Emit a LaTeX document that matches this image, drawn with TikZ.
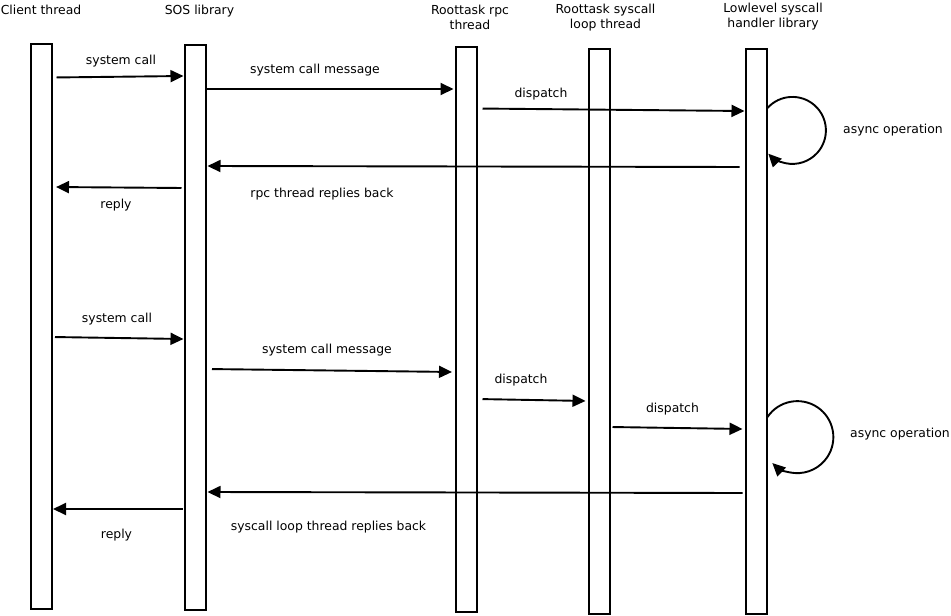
\documentclass[tikz,border=0pt]{standalone}
\usepackage{fontspec}
\setmainfont{DejaVu Sans}
\usetikzlibrary{arrows.meta,positioning}

\begin{document}
\begin{tikzpicture}[
    x=1pt, y=-1pt,
    every node/.style={font=\fontsize{12.4}{15}\selectfont, inner sep=0pt},
    bar/.style={draw, line width=2pt, fill=white, minimum width=21pt, minimum height=565pt},
    title/.style={align=center, anchor=north},
    lbl/.style={anchor=base},
    msg/.style={-{Triangle[length=13pt,width=12pt]}, line width=1.9pt}
  ]
    \useasboundingbox (0,0) rectangle (951,616);

    % lifelines
    \node[bar] (client) at (41,326.5) {};
    \node[bar] (sos) at (195,327.5) {};
    \node[bar] (rpc) at (466,329) {};
    \node[bar] (loop) at (599,331.5) {};
    \node[bar] (low) at (756,331.5) {};

    \node[title] (clientT) at (41,5) {Client thread};
    \node[title] (sosT) at (199.5,5) {SOS library};
    \node[title] (rpcT) at (470,5) {Roottask rpc\\thread};
    \node[title] (loopT) at (605.5,4) {Roottask syscall\\loop thread};
    \node[title] (lowT) at (773,3) {Lowlevel syscall\\handler library};

    % first call, answered by the rpc thread
    \draw[msg, shorten <=4pt] (client.east |- 0,77.5) -- (sos.west |- 0,76);
    \draw[msg, shorten <=0.5pt, shorten >=1pt] (sos.east |- 0,89) -- (rpc.west |- 0,89);
    \draw[msg, shorten <=5pt] (rpc.east |- 0,108.5) -- (low.west |- 0,111);
    \draw[msg] (low.east |- 0,108) arc[start angle=-138, end angle=136, radius=33.5];
    \draw[msg, shorten <=5pt, shorten >=1pt] (low.west |- 0,167) -- (sos.east |- 0,166);
    \draw[msg, shorten <=2pt, shorten >=3.5pt] (sos.west |- 0,188) -- (client.east |- 0,187);

    \node[lbl] (call1) at (121,64) {system call};
    \node[lbl] (callmsg1) at (315,73) {system call message};
    \node[lbl] (disp1) at (541,97) {dispatch};
    \node[lbl] (async1) at (893,133) {async operation};
    \node[lbl] (back1) at (322,197) {rpc thread replies back};
    \node[lbl] (reply1) at (116,208) {reply};

    % second call, answered by the syscall loop thread
    \draw[msg, shorten <=2.5pt] (client.east |- 0,337) -- (sos.west |- 0,339);
    \draw[msg, shorten <=5.5pt, shorten >=2.5pt] (sos.east |- 0,369) -- (rpc.west |- 0,372);
    \draw[msg, shorten <=5pt, shorten >=2pt] (rpc.east |- 0,399) -- (loop.west |- 0,401);
    \draw[msg, shorten <=2pt, shorten >=2pt] (loop.east |- 0,427) -- (low.west |- 0,429);
    \draw[msg] (low.east |- 0,417) arc[start angle=-146, end angle=134, radius=36];
    \draw[msg, shorten <=2pt, shorten >=1pt] (low.west |- 0,493) -- (sos.east |- 0,492);
    \draw[msg, shorten <=1pt, shorten >=0.5pt] (sos.west |- 0,509) -- (client.east |- 0,509);

    \node[lbl] (call2) at (117,322) {system call};
    \node[lbl] (callmsg2) at (327,353) {system call message};
    \node[lbl] (disp2) at (521,383) {dispatch};
    \node[lbl] (disp3) at (672.5,412) {dispatch};
    \node[lbl] (async2) at (900,437) {async operation};
    \node[lbl] (back2) at (328.5,530) {syscall loop thread replies back};
    \node[lbl] (reply2) at (116.5,538) {reply};
  \end{tikzpicture}
\end{document}
